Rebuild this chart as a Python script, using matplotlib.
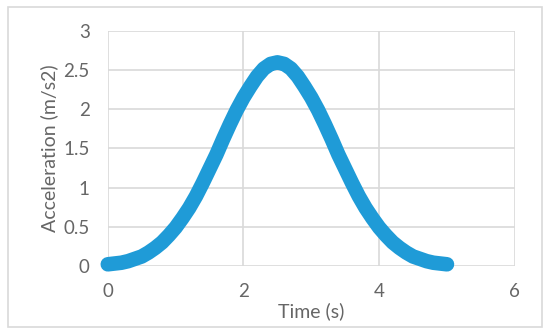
import matplotlib.pyplot as plt
from matplotlib.patches import Rectangle

plt.rcParams['font.family'] = ['Lato', 'DejaVu Sans']

time_s = [0.0, 0.1, 0.2, 0.3, 0.4, 0.5, 0.6, 0.7, 0.8, 0.9,
          1.0, 1.1, 1.2, 1.3, 1.4, 1.5, 1.6, 1.7, 1.8, 1.9,
          2.0, 2.1, 2.2, 2.3, 2.4, 2.5, 2.6, 2.7, 2.8, 2.9,
          3.0, 3.1, 3.2, 3.3, 3.4, 3.5, 3.6, 3.7, 3.8, 3.9,
          4.0, 4.1, 4.2, 4.3, 4.4, 4.5, 4.6, 4.7, 4.8, 4.9, 5.0]
accel = [0.02, 0.03, 0.04, 0.06, 0.09, 0.12, 0.17, 0.23, 0.30, 0.39,
         0.49, 0.61, 0.74, 0.89, 1.06, 1.24, 1.42, 1.62, 1.81, 1.99,
         2.15, 2.29, 2.42, 2.52, 2.58, 2.60, 2.58, 2.52, 2.42, 2.29,
         2.15, 1.99, 1.81, 1.62, 1.42, 1.24, 1.06, 0.89, 0.74, 0.61,
         0.49, 0.39, 0.30, 0.23, 0.17, 0.12, 0.09, 0.06, 0.04, 0.03, 0.02]

x_ticks = [0, 2, 4, 6]
y_ticks = [0, 0.5, 1, 1.5, 2, 2.5, 3]
y_tick_labels = ['0', '0.5', '1', '1.5', '2', '2.5', '3']

grey = '#d9d9d9'
text_col = '#666666'

fig = plt.figure(figsize=(5.5, 3.34), dpi=100)
ax = fig.add_axes([0.196, 0.204, 0.740, 0.703])

ax.plot(time_s, accel, color='#1f9bd7', lw=10.5, solid_capstyle='round',
        solid_joinstyle='round', zorder=3, clip_on=False)

ax.set_xlim(0, 6)
ax.set_ylim(0, 3)
ax.set_xticks(x_ticks)
ax.set_yticks(y_ticks)
ax.set_yticklabels(y_tick_labels)
ax.grid(True, color=grey, lw=1.2)
for s in ax.spines.values():
    s.set_visible(False)
ax.tick_params(length=0, labelsize=13.5, labelcolor=text_col)
ax.tick_params(axis='x', pad=12)
ax.tick_params(axis='y', pad=13)

ax.set_xlabel('Time (s)', fontsize=14, color=text_col, labelpad=2)
ax.set_ylabel('Acceleration (m/s2)', fontsize=14, color=text_col, labelpad=4)

fig.patches.append(Rectangle((8 / 550, 7 / 334), 534 / 550, 320 / 334,
                             transform=fig.transFigure, fill=False,
                             edgecolor=grey, lw=1.2))

fig.savefig('out.png', dpi=100)
